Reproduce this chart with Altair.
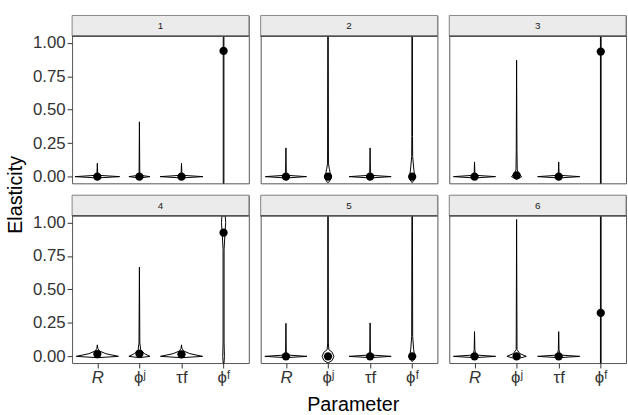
import altair as alt
import pandas as pd

PANELS = ["1", "2", "3", "4", "5", "6"]
PARAMS = ["R", "ϕʲ", "τf", "ϕᶠ"]

# point estimate (dot) per panel, in PARAMS order
POINT_1 = [0.0, 0.0, 0.0, 0.94]
POINT_2 = [0.0, 0.0, 0.0, 0.0]
POINT_3 = [0.0, 0.01, 0.0, 0.935]
POINT_4 = [0.017, 0.02, 0.015, 0.925]
POINT_5 = [0.0, 0.0, 0.0, 0.0]
POINT_6 = [0.0, 0.0, 0.0, 0.325]
POINTS = [POINT_1, POINT_2, POINT_3, POINT_4, POINT_5, POINT_6]

# violin outlines: (elasticity, half-width in category units)
VIOLIN_1 = [
    [(-0.01, 0), (0, 0.53), (0.01, 0.02), (0.03, 0.008), (0.10, 0)],
    [(-0.01, 0), (0, 0.25), (0.01, 0.02), (0.03, 0.008), (0.41, 0)],
    [(-0.01, 0), (0, 0.51), (0.01, 0.02), (0.03, 0.008), (0.10, 0)],
    [(-0.05, 0.008), (1.05, 0.008)],
]
VIOLIN_2 = [
    [(-0.01, 0), (0, 0.49), (0.01, 0.02), (0.03, 0.008), (0.215, 0)],
    [(-0.045, 0), (-0.03, 0.05), (0, 0.08), (0.03, 0.05), (0.06, 0.03), (0.1, 0.01), (1.05, 0.006)],
    [(-0.01, 0), (0, 0.5), (0.01, 0.02), (0.03, 0.008), (0.215, 0)],
    [(-0.045, 0), (-0.02, 0.06), (0, 0.065), (0.05, 0.04), (0.15, 0.012), (0.3, 0.008), (1.05, 0.006)],
]
VIOLIN_3 = [
    [(-0.01, 0), (0, 0.5), (0.01, 0.02), (0.03, 0.008), (0.11, 0)],
    [(-0.02, 0), (0, 0.12), (0.02, 0.06), (0.05, 0.015), (0.2, 0.008), (0.87, 0)],
    [(-0.01, 0), (0, 0.5), (0.01, 0.02), (0.03, 0.008), (0.11, 0)],
    [(-0.05, 0.008), (1.05, 0.008)],
]
VIOLIN_4 = [
    [(-0.01, 0), (0, 0.5), (0.02, 0.2), (0.04, 0.05), (0.06, 0.01), (0.086, 0)],
    [(-0.01, 0), (0, 0.25), (0.02, 0.12), (0.05, 0.03), (0.1, 0.01), (0.667, 0)],
    [(-0.01, 0), (0, 0.5), (0.02, 0.2), (0.04, 0.05), (0.06, 0.01), (0.086, 0)],
    [(-0.05, 0.01), (0.0, 0.02), (0.1, 0.012), (0.8, 0.012), (0.9, 0.03), (1.0, 0.05), (1.05, 0.04)],
]
VIOLIN_5 = [
    [(-0.01, 0), (0, 0.5), (0.01, 0.02), (0.03, 0.008), (0.247, 0)],
    [(-0.05, 0), (-0.03, 0.1), (0, 0.14), (0.03, 0.1), (0.05, 0.02), (0.1, 0.008), (1.05, 0.006)],
    [(-0.01, 0), (0, 0.5), (0.01, 0.02), (0.03, 0.008), (0.25, 0)],
    [(-0.04, 0), (-0.02, 0.05), (0, 0.06), (0.05, 0.035), (0.15, 0.012), (1.05, 0.006)],
]
VIOLIN_6 = [
    [(-0.01, 0), (0, 0.5), (0.01, 0.02), (0.03, 0.02), (0.05, 0.008), (0.185, 0)],
    [(-0.02, 0), (0, 0.23), (0.02, 0.08), (0.05, 0.01), (1.024, 0)],
    [(-0.01, 0), (0, 0.5), (0.01, 0.02), (0.03, 0.02), (0.05, 0.008), (0.185, 0)],
    [(-0.05, 0.008), (1.05, 0.008)],
]
VIOLINS = [VIOLIN_1, VIOLIN_2, VIOLIN_3, VIOLIN_4, VIOLIN_5, VIOLIN_6]

Y_TICKS = [0.0, 0.25, 0.5, 0.75, 1.0]

rows = []
for p, panel in enumerate(PANELS):
    for i, knots in enumerate(VIOLINS[p]):
        for y, hw in knots:
            rows.append(dict(kind="violin", panel=panel, param=PARAMS[i], pos=i + 1,
                             y=y, lo=i + 1 - hw, hi=i + 1 + hw))
    for i, v in enumerate(POINTS[p]):
        rows.append(dict(kind="point", panel=panel, param=PARAMS[i], pos=i + 1,
                         y=v, lo=0.0, hi=0.0))
    rows.append(dict(kind="strip", panel=panel, param="", pos=0, y=0.0, lo=0.0, hi=0.0))
df = pd.DataFrame(rows)

W, H, STRIP = 179, 170, 21
FONT = "Liberation Sans"

label_expr = " : ".join(
    f"datum.value == {i + 1} ? '{name}'" for i, name in enumerate(PARAMS)
) + " : ''"

xscale = alt.Scale(domain=[0.4, 4.6], nice=False, zero=False)
yscale = alt.Scale(domain=[-0.05, 1.205], nice=False, zero=False)


def make_panel(idx):
    panel = PANELS[idx]
    left = idx % 3 == 0
    bottom = idx >= 3
    xaxis = (alt.Axis(values=[1, 2, 3, 4], labelExpr=label_expr, title=None,
                      labelFontStyle={"condition": {"test": "datum.value == 1", "value": "italic"},
                                      "value": "normal"})
             if bottom else None)
    yaxis = alt.Axis(values=Y_TICKS, format=".2f", title=None) if left else None

    base = alt.Chart()
    violins = base.transform_filter(alt.datum.kind == "violin").mark_area(
        orient="horizontal", fill="white", stroke="black", strokeWidth=1
    ).encode(
        y=alt.Y("y:Q", scale=yscale, axis=yaxis),
        x=alt.X("lo:Q", scale=xscale, axis=xaxis),
        x2="hi:Q",
        detail="param:N",
    )
    points = base.transform_filter(alt.datum.kind == "point").mark_point(
        filled=True, color="black", size=70, opacity=1
    ).encode(
        x=alt.X("pos:Q", scale=xscale, axis=xaxis),
        y=alt.Y("y:Q", scale=yscale, axis=yaxis),
    )
    strip = base.transform_filter(alt.datum.kind == "strip")
    strip_bg = strip.mark_rect(fill="#ebebeb", stroke="#8a8a8a", strokeWidth=1).encode(
        x=alt.value(0), x2=alt.value(W), y=alt.value(0), y2=alt.value(STRIP))
    strip_line = strip.mark_rule(color="#333333", strokeWidth=1.2).encode(
        x=alt.value(0), x2=alt.value(W), y=alt.value(STRIP))
    strip_text = strip.mark_text(font=FONT, fontSize=10, color="#1a1a1a", baseline="middle").encode(
        x=alt.value(W / 2), y=alt.value(STRIP / 2 + 0.5), text="panel:N")
    return alt.layer(violins, points, strip_bg, strip_line, strip_text, data=df).transform_filter(
        alt.datum.panel == panel
    ).properties(width=W, height=H)


row1 = alt.hconcat(*[make_panel(i) for i in range(3)], spacing=8)
row2 = alt.hconcat(*[make_panel(i) for i in range(3, 6)], spacing=8)
grid = alt.vconcat(row1, row2, spacing=8).properties(
    title=alt.TitleParams("Parameter", orient="bottom", anchor="middle", font=FONT, fontSize=20,
                          fontWeight="normal", color="black", offset=9, dx=24)
)
chart = alt.hconcat(grid).properties(
    title=alt.TitleParams("Elasticity", orient="left", anchor="middle", font=FONT, fontSize=20,
                          fontWeight="normal", color="black", offset=6, dx=20),
    padding={"left": 6, "top": 12, "right": 0, "bottom": 0},
    background="white",
).configure_view(
    stroke="#555555", strokeWidth=1
).configure_axis(
    grid=False, domain=False, tickColor="#333333", tickSize=5,
    labelFont=FONT, labelFontSize=17, labelColor="#333333", labelPadding=2,
).configure_concat(spacing=8)

chart.save("out.html", embed_options={"renderer": "svg", "actions": False})
